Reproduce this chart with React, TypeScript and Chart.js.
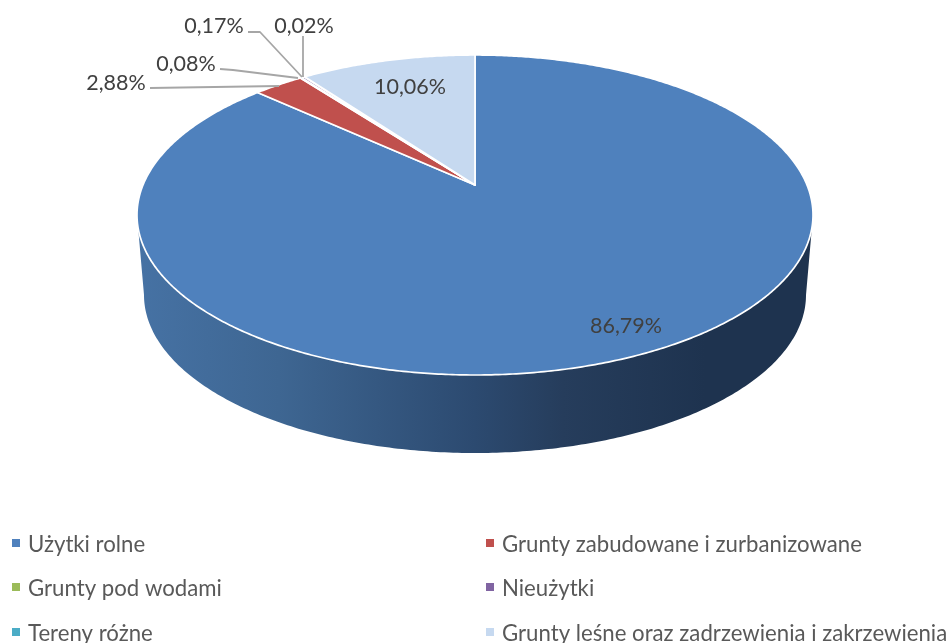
import React, { useEffect, useRef } from "react";
import { Chart, registerables } from "chart.js";

Chart.register(...registerables);

const categories = [
  "Użytki rolne",
  "Grunty zabudowane i zurbanizowane",
  "Grunty pod wodami",
  "Nieużytki",
  "Tereny różne",
  "Grunty leśne oraz zadrzewienia i zakrzewienia",
];
const shares = [86.79, 2.88, 0.08, 0.17, 0.02, 10.06];
const colors = ["#4F81BD", "#C0504D", "#9BBB59", "#8064A2", "#4BACC6", "#C6D9F0"];

// Layout of the text and leader lines, in canvas pixels
const labelAnchors = [
  [626, 333],
  [116, 90],
  [186, 71],
  [214, 33],
  [304, 33],
  [410, 94],
];
const leaders: (number[][] | null)[] = [
  null,
  [[150, 88], [279, 86]],
  [[220, 69], [233, 70], [298, 78]],
  [[248, 32], [260, 32], [302, 77]],
  [[303, 36], [303, 77]],
  null,
];
const legendCols = [12, 486];
const legendRows = [552, 596, 641];

// Disc seen in perspective: apex and rim of the top face
const CX = 475;
const APEX_Y = 185;
const TOP_Y = 55;
const BOTTOM_Y = 375;
const RIM_X = 338;
const far = APEX_Y - TOP_Y;
const near = BOTTOM_Y - APEX_Y;
const k = (near / far - 1) / (near / far + 1);
const B = far * (1 + k);
const A = RIM_X * Math.sqrt(1 - k * k);
const project = (angle: number) => {
  const u = Math.cos(angle);
  const v = -Math.sin(angle);
  const w = 1 + k * v;
  return [CX + (A * u) / w, APEX_Y - (B * v) / w];
};
// Lower rim of the cylinder
const LOW_CY = 295;
const LOW_RX = 331;
const LOW_RY = 158;

const FONT = "Lato, sans-serif";

const piePlugin = {
  id: "perspectivePie",
  beforeDatasetDraw(chart: any) {
    const ctx: CanvasRenderingContext2D = chart.ctx;
    const arcs = chart.getDatasetMeta(0).data;
    const frontStart = Math.asin(k);
    const frontEnd = Math.PI - frontStart;

    // side wall
    arcs.forEach((arc: any) => {
      const s = Math.max(arc.startAngle, frontStart);
      const e = Math.min(arc.endAngle, frontEnd);
      if (e <= s) return;
      const g = ctx.createLinearGradient(137, 0, 813, 0);
      g.addColorStop(0, "#4672A4");
      g.addColorStop(0.21, "#3E6692");
      g.addColorStop(0.5, "#2C4A70");
      g.addColorStop(0.63, "#263D5C");
      g.addColorStop(0.84, "#1E334F");
      g.addColorStop(1, "#1E334F");
      ctx.beginPath();
      const n = 240;
      for (let i = 0; i <= n; i++) {
        const p = project(s + ((e - s) * i) / n);
        if (i === 0) ctx.moveTo(p[0], p[1]);
        else ctx.lineTo(p[0], p[1]);
      }
      for (let i = 0; i <= n; i++) {
        const t = Math.PI - (Math.PI * i) / n;
        ctx.lineTo(CX + LOW_RX * Math.cos(t), LOW_CY + LOW_RY * Math.sin(t));
      }
      ctx.closePath();
      ctx.fillStyle = g;
      ctx.fill();
    });

    // top face
    arcs.forEach((arc: any, i: number) => {
      const s = arc.startAngle;
      const e = arc.endAngle;
      const n = Math.max(2, Math.ceil(((e - s) * 180) / Math.PI) * 2);
      ctx.beginPath();
      ctx.moveTo(CX, APEX_Y);
      for (let j = 0; j <= n; j++) {
        const p = project(s + ((e - s) * j) / n);
        ctx.lineTo(p[0], p[1]);
      }
      ctx.closePath();
      ctx.fillStyle = colors[i];
      ctx.fill();
      ctx.strokeStyle = "#FFFFFF";
      ctx.lineWidth = 1.7;
      ctx.lineJoin = "round";
      ctx.stroke();
    });
    return false;
  },
  afterDraw(chart: any) {
    const ctx: CanvasRenderingContext2D = chart.ctx;
    ctx.save();
    // leaders
    ctx.strokeStyle = "#A6A6A6";
    ctx.lineWidth = 1.8;
    leaders.forEach((pts) => {
      if (!pts) return;
      ctx.beginPath();
      pts.forEach((p, i) => (i === 0 ? ctx.moveTo(p[0], p[1]) : ctx.lineTo(p[0], p[1])));
      ctx.stroke();
    });
    // data labels
    ctx.font = `21.5px ${FONT}`;
    ctx.fillStyle = "#404040";
    ctx.textAlign = "center";
    ctx.textBaseline = "alphabetic";
    shares.forEach((v, i) => {
      const [x, y] = labelAnchors[i];
      ctx.fillText(`${v.toFixed(2).replace(".", ",")}%`, x, y);
    });
    // legend
    ctx.textAlign = "left";
    ctx.font = `22.2px ${FONT}`;
    categories.forEach((name, i) => {
      const x = legendCols[i % 2];
      const y = legendRows[Math.floor(i / 2)];
      ctx.fillStyle = colors[i];
      ctx.fillRect(x, y - 13, 8, 8);
      ctx.fillStyle = "#595959";
      ctx.fillText(name, x + 16, y);
    });
    ctx.restore();
  },
};

export default function App() {
  const ref = useRef<HTMLCanvasElement>(null);
  useEffect(() => {
    document.body.style.margin = "0";
    const chart = new Chart(ref.current as HTMLCanvasElement, {
      type: "pie",
      data: {
        labels: categories,
        datasets: [{ data: shares, backgroundColor: colors, borderColor: "#FFFFFF" }],
      },
      options: {
        responsive: false,
        animation: false,
        rotation: 0,
        plugins: { legend: { display: false }, tooltip: { enabled: false } },
      },
      plugins: [piePlugin],
    } as any);
    return () => chart.destroy();
  }, []);
  return <canvas ref={ref} width={951} height={643} style={{ display: "block" }} />;
}
